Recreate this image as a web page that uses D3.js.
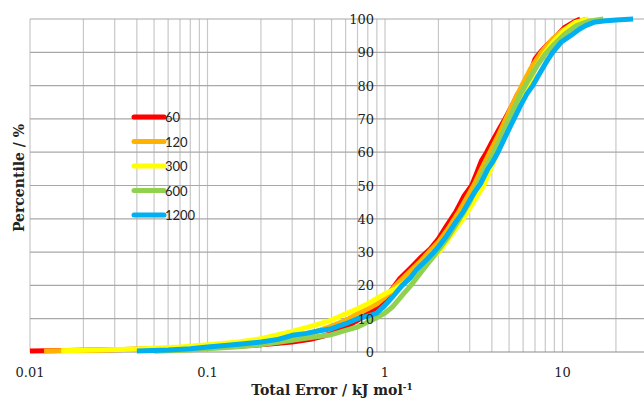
<!DOCTYPE html>
<html lang="en">
<head>
<meta charset="UTF-8">
<script src="https://d3js.org/d3.v7.min.js"></script>
<style>
  body { margin: 0; background: #fff; }
  svg { display: block; }
  .tick-label { font-family: 'DejaVu Serif', serif; font-size: 13px; fill: #222; }
  .axis-title { font-family: 'DejaVu Serif', serif; font-size: 14px; font-weight: bold; fill: #222; }
  .legend-label { font-family: 'Lato', 'Liberation Sans', sans-serif; font-size: 13px; fill: #222; }
</style>
</head>
<body>
<svg width="644" height="399"></svg>
<script>
// Series names and colours
const seriesNames = ["60", "120", "300", "600", "1200"];
const seriesColors = ["#ff0000", "#ffb300", "#ffff00", "#92d050", "#00b0f0"];

// Cumulative curves: [total error, percentile]
const s60 = [[0.01,0.3],[0.02,0.5],[0.04,0.8],[0.06,1.0],[0.1,1.4],[0.15,1.7],[0.2,2.2],[0.25,2.6],[0.3,3.0],[0.38,3.8],[0.45,4.8],[0.5,5.5],[0.6,7.5],[0.7,9.5],[0.8,11.5],[0.9,13.5],[1.0,16],[1.1,19],[1.21,22],[1.44,26],[1.6,28.5],[1.8,31],[2.0,34],[2.2,37.5],[2.5,42],[2.8,47],[3.08,50],[3.3,54],[3.5,57.5],[3.74,60],[4.0,63],[4.4,67],[4.74,70],[5.2,74],[5.6,77.5],[6.2,80],[6.6,84],[7.0,88],[7.5,90],[8.3,92.5],[9.3,95],[10.3,97.5],[11.5,99],[12.6,100]];
const s120 = [[0.012,0.3],[0.02,0.5],[0.04,0.8],[0.07,1.2],[0.1,1.7],[0.15,2.3],[0.2,3.0],[0.3,4.5],[0.4,6],[0.5,7.8],[0.6,9.5],[0.7,11.5],[0.8,13],[0.9,14.5],[1.0,16.5],[1.2,21],[1.4,24.5],[1.6,27.5],[1.8,30.5],[2.0,33],[2.3,37.5],[2.6,42],[2.9,46.5],[3.2,50.5],[3.5,55],[3.9,60],[4.3,64.5],[4.8,70],[5.3,75],[5.9,80],[6.6,85],[7.6,90],[8.8,94],[10,96.5],[11.5,98.5],[13.5,100]];
const s300 = [[0.015,0.4],[0.025,0.6],[0.04,0.9],[0.07,1.5],[0.1,2.2],[0.15,3.0],[0.2,4.0],[0.3,6.2],[0.4,8.0],[0.5,9.6],[0.6,11.5],[0.7,13],[0.8,14.5],[1.0,17.5],[1.15,19],[1.3,21],[1.5,23.5],[1.75,27],[2.05,30.5],[2.35,35],[2.75,40],[3.15,45],[3.6,50],[3.95,55],[4.3,60],[4.7,65],[5.05,69],[5.5,73],[5.9,76.5],[6.4,80],[7.0,85],[8.0,90],[9.0,93.5],[10.2,96.5],[11.8,99],[14,100]];
const s600 = [[0.05,0.2],[0.08,0.6],[0.1,1.0],[0.15,1.6],[0.2,2.2],[0.3,3.5],[0.4,4.5],[0.5,5.2],[0.6,6.5],[0.7,7.5],[0.8,9],[0.9,10.3],[1.0,11.7],[1.1,13.5],[1.25,17],[1.4,20],[1.6,24],[1.8,27.5],[2.0,30.6],[2.3,35],[2.6,39.5],[3.0,45],[3.3,50],[3.6,54.5],[4.0,59],[4.4,63.5],[4.8,68],[5.3,73],[5.8,77.5],[6.4,81.5],[7.2,86],[8.0,89.5],[9.0,92.5],[10.3,95.5],[12,98],[14,99.3],[17,100]];
const s1200 = [[0.04,0.3],[0.06,0.6],[0.08,1.0],[0.1,1.5],[0.13,2.0],[0.16,2.5],[0.2,3.0],[0.25,3.8],[0.3,5.0],[0.36,5.6],[0.42,6.3],[0.5,7.0],[0.6,8.5],[0.7,10.0],[0.8,10.8],[0.9,11.7],[1.0,14],[1.1,16.5],[1.25,20],[1.4,22.5],[1.5,24.6],[1.7,27.5],[1.85,29.5],[2.0,31.6],[2.2,34.5],[2.5,39],[2.75,42],[3.0,45.6],[3.2,48],[3.45,50.5],[3.8,55],[4.0,56.7],[4.33,60],[4.7,64],[5.0,67],[5.33,70],[5.8,74],[6.3,77.5],[6.8,80],[7.5,84],[8.2,87.5],[8.8,90],[9.8,93],[11.1,95],[12.5,97],[13.5,98],[15,99],[17,99.4],[20,99.7],[25,100]];
const seriesData = [s60, s120, s300, s600, s1200];

// Tick labels
const xTicks = [0.01, 0.1, 1, 10];
const yTicks = [0, 10, 20, 30, 40, 50, 60, 70, 80, 90, 100];

const svg = d3.select("svg");
const W = 644;

// Scales (domain runs past the right edge, the picture is cropped there)
const x = d3.scaleLog().domain([0.01, 100]).range([30, 740]);
const y = d3.scaleLinear().domain([0, 100]).range([352, 19]);

// Minor vertical grid
const minor = [];
[0.01, 0.1, 1, 10].forEach(d => { for (let k = 1; k <= 9; k++) minor.push(d * k); });
minor.push(100);
svg.append("g").selectAll("line")
    .data(minor.filter(v => x(v) <= W))
    .join("line")
    .attr("x1", d => x(d)).attr("x2", d => x(d))
    .attr("y1", y(0)).attr("y2", y(100))
    .attr("stroke", "#c8c8c8").attr("stroke-width", 1.2);

// Horizontal grid
svg.append("g").selectAll("line")
    .data(yTicks)
    .join("line")
    .attr("x1", x(0.01)).attr("x2", W)
    .attr("y1", d => y(d)).attr("y2", d => y(d))
    .attr("stroke", d => d === 0 ? "#8c8c8c" : "#a8a8a8").attr("stroke-width", 1.2);

// Series lines
const line = d3.line().x(d => x(d[0])).y(d => y(d[1]));
svg.append("g").selectAll("path")
    .data(seriesData)
    .join("path")
    .attr("d", line)
    .attr("fill", "none")
    .attr("stroke", (d, i) => seriesColors[i])
    .attr("stroke-width", 5)
    .attr("stroke-linejoin", "round");

// Y tick labels at x = 1
svg.append("g").selectAll("text")
    .data(yTicks)
    .join("text")
    .attr("class", "tick-label")
    .attr("x", x(1) - 11)
    .attr("y", d => y(d) + 5)
    .attr("text-anchor", "end")
    .text(d => d);

// X tick labels
svg.append("g").selectAll("text")
    .data(xTicks)
    .join("text")
    .attr("class", "tick-label")
    .attr("x", d => x(d))
    .attr("y", 377)
    .attr("text-anchor", "middle")
    .text(d => d);

// Axis titles
const xt = svg.append("text")
    .attr("class", "axis-title")
    .attr("x", 332).attr("y", 395)
    .attr("text-anchor", "middle");
xt.append("tspan").text("Total Error / kJ mol");
xt.append("tspan").attr("font-size", "9px").attr("dy", -5).text("-1");

svg.append("text")
    .attr("class", "axis-title")
    .attr("transform", "translate(24,178) rotate(-90)")
    .attr("text-anchor", "middle")
    .text("Percentile / %");

// Legend
const legend = svg.append("g").selectAll("g")
    .data(seriesNames)
    .join("g")
    .attr("transform", (d, i) => `translate(134,${117 + i * 24.5})`);
legend.append("line")
    .attr("x1", 0).attr("x2", 30)
    .attr("stroke", (d, i) => seriesColors[i])
    .attr("stroke-width", 5)
    .attr("stroke-linecap", "round");
legend.append("text")
    .attr("class", "legend-label")
    .attr("x", 31).attr("y", 5)
    .text(d => d);
</script>
</body>
</html>
